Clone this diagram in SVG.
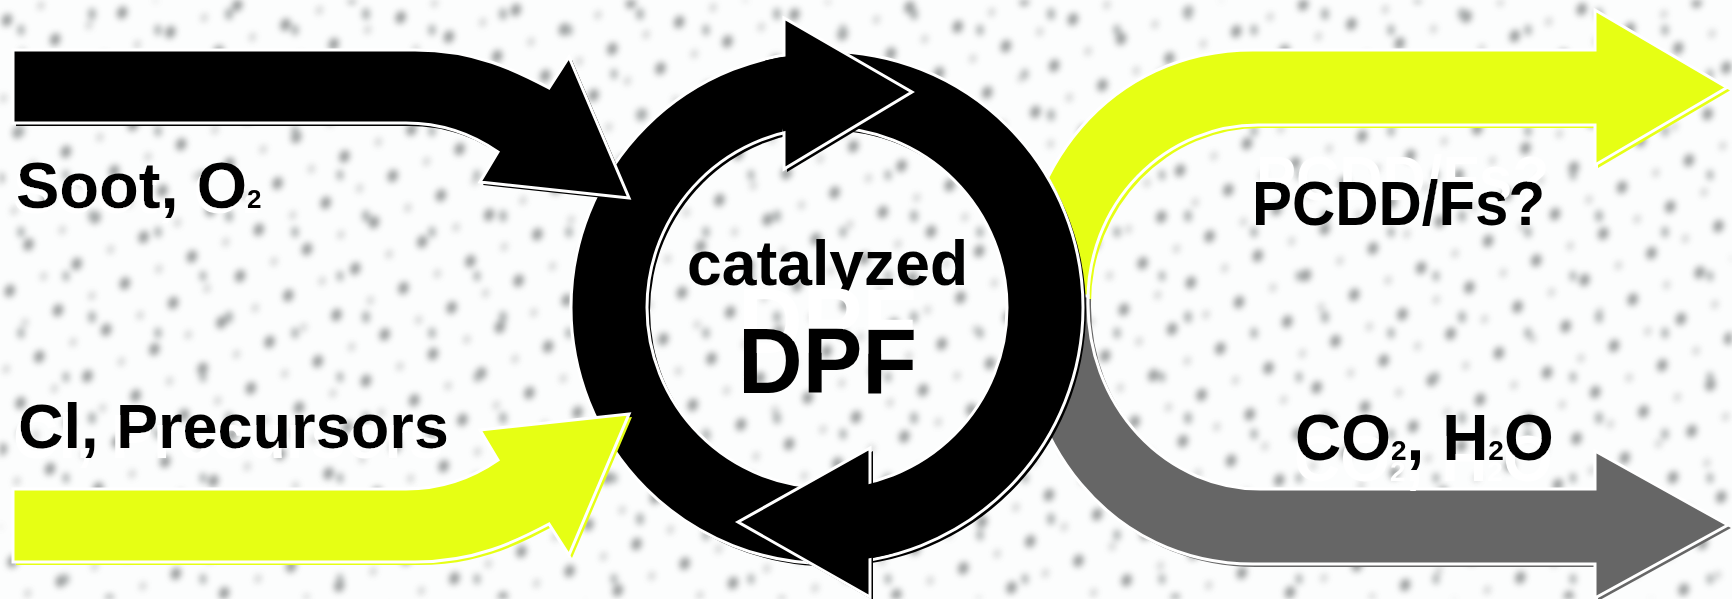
<svg xmlns="http://www.w3.org/2000/svg" xmlns:xlink="http://www.w3.org/1999/xlink" width="1732" height="599" viewBox="0 0 1732 599">
  <style>
    .edge { stroke: #ffffff; stroke-width: 3; stroke-linejoin: miter; }
    .blk { fill: #000000; }
    .ylw { fill: #e6ff14; }
    .gry { fill: #666666; }
    .lbl { font-family: "Liberation Sans", Arial, Helvetica, sans-serif; font-weight: bold; fill: #000000; }
    .dotA { fill: #6c7070; }
    .dotB { fill: #848a8a; }
  </style>
  <defs>
    <!-- speckled paper texture: a tilted lattice of soft dots plus a sparser irregular layer -->
    <pattern id="dotsA" width="52" height="50" patternUnits="userSpaceOnUse" patternTransform="rotate(22)">
      <ellipse class="dotA" cx="14" cy="16" rx="5" ry="6.5"/>
      <ellipse class="dotA" cx="40" cy="40" rx="3.2" ry="4.4" opacity="0.45"/>
    </pattern>
    <pattern id="dotsB" width="137" height="101" patternUnits="userSpaceOnUse">
      <ellipse class="dotB" cx="21" cy="30" rx="3.6" ry="5.5"/>
      <ellipse class="dotB" cx="92" cy="14" rx="4" ry="6"/>
      <ellipse class="dotB" cx="66" cy="74" rx="3.4" ry="5.2"/>
    </pattern>
    <filter id="soft" x="0" y="0" width="100%" height="100%">
      <feGaussianBlur stdDeviation="3.2"/>
    </filter>

    <!-- white offset ghosts behind labels -->
    <filter id="ghostSoot" x="-5%" y="-40%" width="110%" height="180%">
      <feOffset in="SourceAlpha" dx="-3" dy="5" result="o"/>
      <feFlood flood-color="#ffffff"/>
      <feComposite in2="o" operator="in" result="w"/>
      <feMerge><feMergeNode in="w"/><feMergeNode in="SourceGraphic"/></feMerge>
    </filter>
    <filter id="ghostCl" x="-5%" y="-40%" width="110%" height="180%">
      <feOffset in="SourceAlpha" dx="-5" dy="10" result="o"/>
      <feFlood flood-color="#ffffff"/>
      <feComposite in2="o" operator="in" result="w"/>
      <feMerge><feMergeNode in="w"/><feMergeNode in="SourceGraphic"/></feMerge>
    </filter>
    <filter id="ghostPcdd" x="-5%" y="-60%" width="110%" height="200%">
      <feOffset in="SourceAlpha" dx="4" dy="-25" result="o"/>
      <feFlood flood-color="#ffffff"/>
      <feComposite in2="o" operator="in" result="w"/>
      <feMerge><feMergeNode in="w"/><feMergeNode in="SourceGraphic"/></feMerge>
    </filter>
    <filter id="ghostCo" x="-5%" y="-40%" width="110%" height="200%">
      <feOffset in="SourceAlpha" dx="-1" dy="21" result="o"/>
      <feFlood flood-color="#ffffff"/>
      <feComposite in2="o" operator="in" result="w"/>
      <feMerge><feMergeNode in="w"/><feMergeNode in="SourceGraphic"/></feMerge>
    </filter>
    <filter id="ghostDpf" x="-5%" y="-70%" width="110%" height="200%">
      <feOffset in="SourceAlpha" dx="0" dy="-40" result="o"/>
      <feFlood flood-color="#ffffff"/>
      <feComposite in2="o" operator="in" result="w"/>
      <feMerge><feMergeNode in="w"/><feMergeNode in="SourceGraphic"/></feMerge>
    </filter>

    <!-- bent block arrow entering the filter (mirrored for the lower input) -->
    <path id="inArrow" d="M13,50 H415 C475,50 515,70 549,88 L569,57 L629,198 L480,182 L498,152 C472,134 442,123 406,123 H13 Z"/>
    <!-- bent block arrows leaving the filter -->
    <path id="outUp" d="M1253,50 H1595 V10 L1727,87.5 L1595,165 V125 H1258 A170,175 0 0 0 1088,300 V310 H1020 C1015,170 1110,50 1253,50 Z"/>
    <path id="outDown" d="M1253,564 H1595 V598 L1728,525 L1595,451 V489 H1260 A172,185 0 0 1 1088,304 V296 H1020 C1015,440 1110,564 1253,564 Z"/>
    <!-- filter ring and its two cycle arrowheads -->
    <path id="ring" fill-rule="evenodd" d="M571,307.5 A256,256 0 1,0 1083,307.5 A256,256 0 1,0 571,307.5 Z M647,307.5 A180,180 0 1,0 1007,307.5 A180,180 0 1,0 647,307.5 Z"/>
    <path id="headTop" d="M784,18 L912,92 L784,169 Z"/>
    <path id="headBottom" d="M870,448 L738,522 L870,597 Z"/>
  </defs>

  <!-- background -->
  <rect x="0" y="0" width="1732" height="599" fill="#fcfdfd"/>
  <g filter="url(#soft)" opacity="0.7">
    <rect x="0" y="0" width="1732" height="599" fill="url(#dotsA)"/>
    <rect x="0" y="0" width="1732" height="599" fill="url(#dotsB)"/>
  </g>

  <!-- connectors -->
  <g id="connectors">
    <g id="out-pcdd">
      <use xlink:href="#outUp" class="ylw" transform="translate(3,3)"/>
      <use xlink:href="#outUp" class="ylw edge"/>
    </g>
    <g id="out-co2">
      <use xlink:href="#outDown" class="gry" transform="translate(3,3)"/>
      <use xlink:href="#outDown" class="gry edge"/>
    </g>
  </g>

  <!-- catalyzed DPF cycle -->
  <g id="dpf">
    <use xlink:href="#ring" class="blk" fill-rule="evenodd" transform="translate(3,3)"/>
    <use xlink:href="#ring" class="blk edge" fill-rule="evenodd"/>
    <use xlink:href="#headTop" class="blk" transform="translate(3,3)"/>
    <use xlink:href="#headTop" class="blk edge"/>
    <use xlink:href="#headBottom" class="blk" transform="translate(3,3)"/>
    <use xlink:href="#headBottom" class="blk edge"/>
    <!-- blend each head into the ring band -->
    <path d="M774,96 A218,218 0 0,1 800,91.2" fill="none" stroke="#000" stroke-width="73"/>
    <path d="M860,523 A218,218 0 0,0 884,517.9" fill="none" stroke="#000" stroke-width="73"/>
    <text class="lbl" x="827.5" y="285" font-size="63" text-anchor="middle" textLength="281" lengthAdjust="spacingAndGlyphs">catalyzed</text>
    <text class="lbl" x="827.5" y="393" font-size="92" text-anchor="middle" textLength="179" lengthAdjust="spacingAndGlyphs" filter="url(#ghostDpf)">DPF</text>
  </g>

  <g id="connectors-in">
    <g id="in-soot">
      <use xlink:href="#inArrow" class="blk" transform="translate(3,3)"/>
      <use xlink:href="#inArrow" class="blk edge"/>
    </g>
    <g id="in-cl">
      <use xlink:href="#inArrow" class="ylw" transform="translate(3,3) matrix(1 0 0 -1 0 612)"/>
      <use xlink:href="#inArrow" class="ylw edge" transform="matrix(1 0 0 -1 0 612)"/>
    </g>
  </g>

  <!-- stream labels -->
  <g id="soot">
    <text class="lbl" x="16" y="208" font-size="65" filter="url(#ghostSoot)">Soot, O<tspan font-size="26">2</tspan></text>
  </g>
  <g id="precursors">
    <text class="lbl" x="18" y="448" font-size="63" filter="url(#ghostCl)">Cl, Precursors</text>
  </g>
  <g id="pcdd">
    <text class="lbl" x="1252" y="225" font-size="63" textLength="293" lengthAdjust="spacingAndGlyphs" filter="url(#ghostPcdd)">PCDD/Fs?</text>
  </g>
  <g id="co2">
    <text class="lbl" x="1295" y="460" font-size="64" filter="url(#ghostCo)">CO<tspan font-size="28">2</tspan>, H<tspan font-size="28">2</tspan>O</text>
  </g>
</svg>
